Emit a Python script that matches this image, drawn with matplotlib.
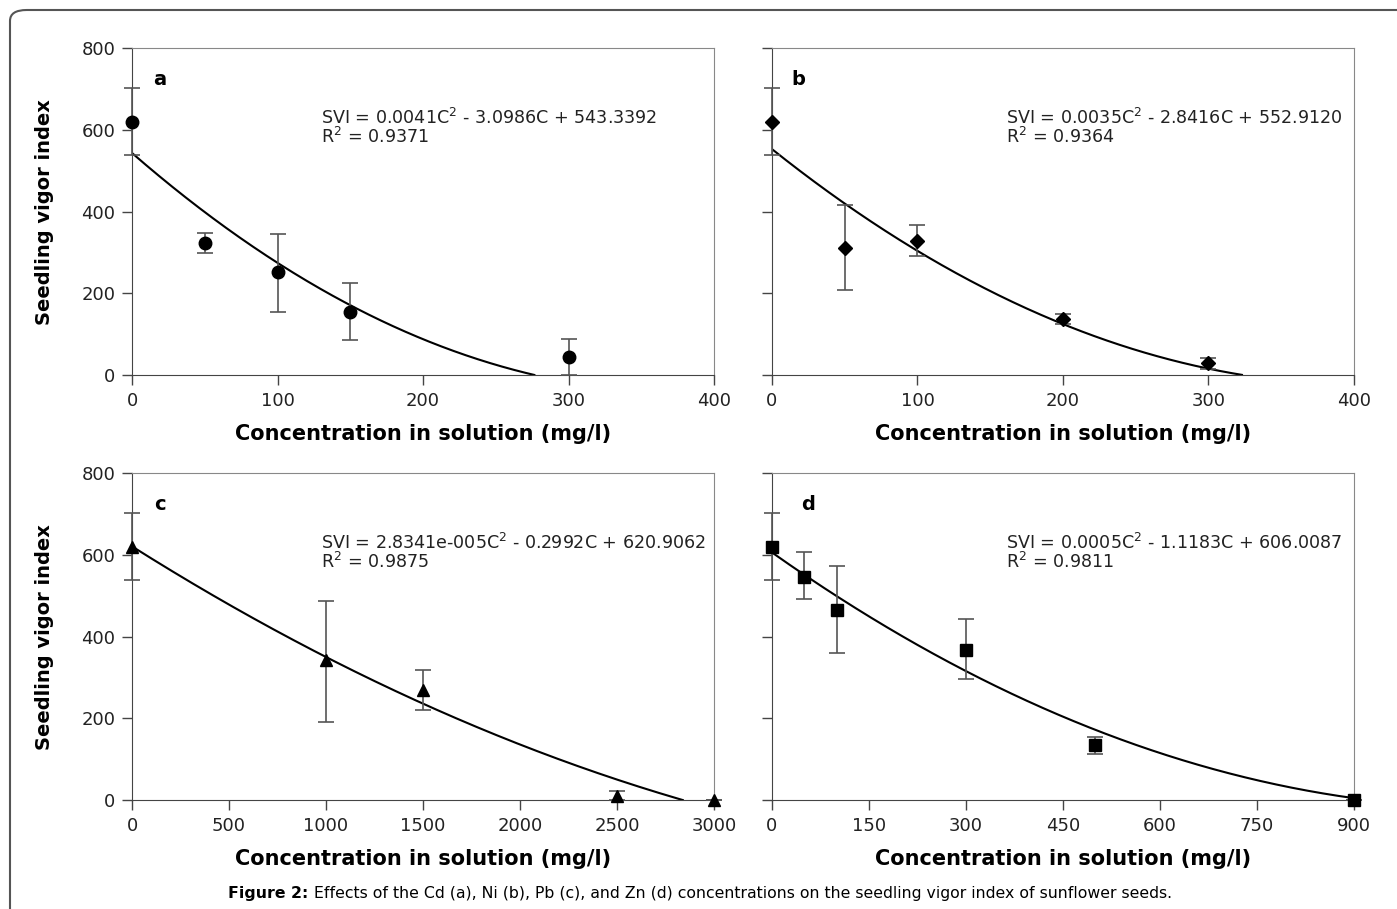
import numpy as np
import matplotlib
matplotlib.use("Agg")
import matplotlib.pyplot as plt
from matplotlib.patches import FancyBboxPatch

# the source image is stretched sideways, so the wider DejaVu Sans fits it better
plt.rcParams['font.family'] = ['DejaVu Sans']
plt.rcParams['mathtext.fontset'] = 'dejavusans'

# Cd (a)
a_x = [0, 50, 100, 150, 300]
a_y = [620, 323, 251, 154, 44]
a_lo = [538, 298, 154, 86, 0]
a_hi = [702, 347, 345, 225, 88]
a_fit = [0.0041, -3.0986, 543.3392]
a_r2 = 0.9371

# Ni (b)
b_x = [0, 50, 100, 200, 300]
b_y = [620, 311, 328, 137, 29]
b_lo = [538, 208, 291, 125, 15]
b_hi = [702, 416, 367, 149, 42]
b_fit = [0.0035, -2.8416, 552.9120]
b_r2 = 0.9364

# Pb (c)
c_x = [0, 1000, 1500, 2500, 3000]
c_y = [620, 343, 270, 10, 0]
c_lo = [538, 192, 220, 0, 0]
c_hi = [702, 488, 318, 22, 0]
c_fit = [2.8341e-5, -0.2992, 620.9062]
c_r2 = 0.9875

# Zn (d)
d_x = [0, 50, 100, 300, 500, 900]
d_y = [620, 547, 466, 368, 135, 0]
d_lo = [538, 491, 361, 297, 113, 0]
d_hi = [702, 606, 572, 444, 155, 0]
d_fit = [0.0005, -1.1183, 606.0087]
d_r2 = 0.9811

eq_text = [
    "SVI = 0.0041C$^2$ - 3.0986C + 543.3392",
    "SVI = 0.0035C$^2$ - 2.8416C + 552.9120",
    "SVI = 2.8341e-005C$^2$ - 0.2992C + 620.9062",
    "SVI = 0.0005C$^2$ - 1.1183C + 606.0087",
]

fig = plt.figure(figsize=(13.97, 9.09), dpi=100)

# rounded frame (only top/left visible in the original crop)
frame = FancyBboxPatch((10 / 1397, -0.2), 1.2, 1 - 10 / 909 + 0.2,
                       boxstyle="round,pad=0,rounding_size=0.012",
                       transform=fig.transFigure, fill=False,
                       edgecolor="#555555", linewidth=1.5, clip_on=False)
fig.patches.append(frame)

W = 0.4166
H = 0.3595
pos = [
    (0.0945, 0.5875),
    (0.5526, 0.5875),
    (0.0945, 0.1199),
    (0.5526, 0.1199),
]

panels = [
    ("a", a_x, a_y, a_lo, a_hi, a_fit, a_r2, "o", 9, [0, 100, 200, 300, 400], 276.5),
    ("b", b_x, b_y, b_lo, b_hi, b_fit, b_r2, "D", 7, [0, 100, 200, 300, 400], 323.0),
    ("c", c_x, c_y, c_lo, c_hi, c_fit, c_r2, "^", 8.5, [0, 500, 1000, 1500, 2000, 2500, 3000], 2839.0),
    ("d", d_x, d_y, d_lo, d_hi, d_fit, d_r2, "s", 8, [0, 150, 300, 450, 600, 750, 900], 900.0),
]

for i, (lab, x, y, lo, hi, fit, r2, mk, ms, xt, xend) in enumerate(panels):
    ax = fig.add_axes([pos[i][0], pos[i][1], W, H])
    x = np.array(x)
    y = np.array(y)
    yerr = [y - np.array(lo), np.array(hi) - y]
    ax.errorbar(x, y, yerr=yerr, fmt="none", ecolor="#555555",
                elinewidth=1.2, capsize=6, capthick=1.2, clip_on=False, zorder=3)
    ax.plot(x, y, linestyle="none", marker=mk, markersize=ms, color="black",
            clip_on=False, zorder=4)
    cx = np.linspace(0, xend, 300)
    ax.plot(cx, np.polyval(fit, cx), color="black", linewidth=1.5, zorder=2)

    ax.set_xlim(xt[0], xt[-1])
    ax.set_ylim(0, 800)
    ax.set_xticks(xt)
    ax.set_yticks([0, 200, 400, 600, 800])
    ax.tick_params(direction="out", length=7, width=1, colors="#444444",
                   labelsize=13, labelcolor="#222222", pad=5)
    for s in ["left", "bottom"]:
        ax.spines[s].set_color("#444444")
    for s in ["top", "right"]:
        ax.spines[s].set_color("#888888")
    if i % 2 == 0:
        ax.set_ylabel("Seedling vigor index", fontsize=14, fontweight="bold",
                      labelpad=20)
        ax.text(0.048, 0.905, lab, transform=ax.transAxes, fontsize=14,
                fontweight="bold", va="center", ha="center")
        tx = 0.324
    else:
        ax.set_yticklabels([])
        ax.text(0.045 if lab == "b" else 0.062, 0.905, lab, transform=ax.transAxes,
                fontsize=14, fontweight="bold", va="center", ha="center")
        tx = 0.402
    ax.set_xlabel("Concentration in solution (mg/l)", fontsize=15,
                  fontweight="bold", labelpad=10)
    ax.text(tx, 0.788, eq_text[i], transform=ax.transAxes, fontsize=12.6,
            va="center", color="#222222")
    ax.text(tx, 0.727, "R$^2$ = %.4f" % r2, transform=ax.transAxes, fontsize=12.6,
            va="center", color="#222222")

# caption: bold lead-in followed by plain text, centred as a whole
cap_bold = fig.text(0, 0.017, "Figure 2:", fontweight="bold", fontsize=11.3,
                    va="center", ha="left")
cap_rest = fig.text(0, 0.017, " Effects of the Cd (a), Ni (b), Pb (c), and Zn (d) "
                    "concentrations on the seedling vigor index of sunflower seeds.",
                    fontsize=11.3, va="center", ha="left")
r = fig.canvas.get_renderer()
w1 = cap_bold.get_window_extent(r).width
w2 = cap_rest.get_window_extent(r).width
x0 = 700 - (w1 + w2) / 2
cap_bold.set_x(x0 / 1397)
cap_rest.set_x((x0 + w1) / 1397)

fig.savefig("out.png", dpi=100)
